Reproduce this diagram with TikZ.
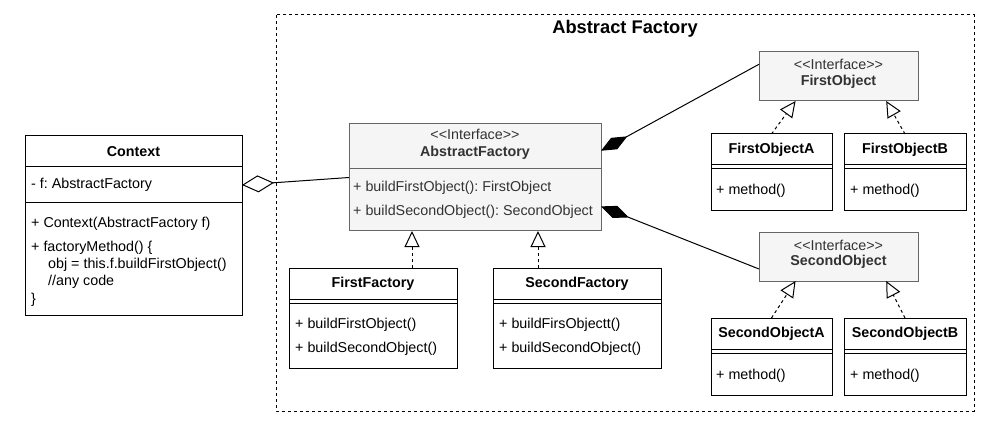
\documentclass[tikz,border=0pt]{standalone}
\usepackage{fontspec}
\setmainfont{Liberation Sans}
\usepackage{tikz}
\usetikzlibrary{arrows.meta,calc}
\frenchspacing
\definecolor{iface-fill}{HTML}{F5F5F5}
\definecolor{iface-line}{HTML}{666666}
\definecolor{iface-text}{HTML}{333333}
\newcommand{\stereo}[1]{<\kern0pt<#1>\kern0pt>}
\tikzset{
    class-box/.style = {draw, fill=white, line width=1pt, rectangle, anchor=north west, inner sep=0pt, outer sep=0pt},
    iface-box/.style = {class-box, draw=iface-line, fill=iface-fill},
    class-name/.style = {font=\bfseries\fontsize{14.3}{16}\selectfont, inner sep=0pt},
    stereo-name/.style = {font=\fontsize{14.3}{16}\selectfont, text=iface-text, inner sep=0pt},
    member/.style = {font=\fontsize{14.3}{16}\selectfont, anchor=west, inner sep=0pt},
    realize/.style = {line width=1pt, dash pattern=on 3pt off 3pt, -{Triangle[open,length=16pt,width=15pt]}},
    compose/.style = {line width=1pt, {Diamond[length=30pt,width=13pt]}-},
    aggregate/.style = {line width=1pt, {Diamond[open,length=32pt,width=17pt]}-},
}

\begin{document}
\begin{tikzpicture}[x=1pt,y=-1pt]
\useasboundingbox (0,0) rectangle (1000,430);

% package frame
\draw[line width=1pt, dash pattern=on 3pt off 3pt] (276,15) rectangle (974,411);
\node[font=\bfseries\fontsize{18.3}{20}\selectfont, inner sep=0pt] (title) at (625,29) {Abstract Factory};

% client
\node[class-box, minimum width=217pt, minimum height=179pt] (ctx) at (25,136) {};
\draw[line width=1pt] ([yshift=-31pt]ctx.north west) -- ([yshift=-31pt]ctx.north east)
    ([yshift=-67pt]ctx.north west) -- ([yshift=-67pt]ctx.north east);
\node[class-name] (ctx-name) at (133.5,152) {Context};
\node[member] (ctx-f) at (31,185) {- f: AbstractFactory};
\node[member] (ctx-m1) at (31,224) {+ Context(AbstractFactory f)};
\node[member] (ctx-m2) at (31,248) {+ factoryMethod() \{};
\node[member] (ctx-m3) at (48,265) {obj = this.f.buildFirstObject()};
\node[member] (ctx-m4) at (48,282) {//any code};
\node[member] (ctx-m5) at (31,300) {\}};

% abstract factory
\node[iface-box, minimum width=252pt, minimum height=107pt] (af) at (349,124) {};
\draw[line width=1pt, iface-line] ([yshift=-45pt]af.north west) -- ([yshift=-45pt]af.north east);
\node[stereo-name] (af-st) at (475,134) {\stereo{Interface}};
\node[class-name, text=iface-text] (af-name) at (475,153) {AbstractFactory};
\node[member, text=iface-text] (af-m1) at (353,188) {+ buildFirstObject(): FirstObject};
\node[member, text=iface-text] (af-m2) at (353,212) {+ buildSecondObject(): SecondObject};

% concrete factories
\node[class-box, minimum width=168pt, minimum height=100pt] (ff) at (289,268) {};
\draw[line width=1pt] ([yshift=-31pt]ff.north west) -- ([yshift=-31pt]ff.north east)
    ([yshift=-35pt]ff.north west) -- ([yshift=-35pt]ff.north east);
\node[class-name] (ff-name) at (373,284) {FirstFactory};
\node[member] (ff-m1) at (295,325) {+ buildFirstObject()};
\node[member] (ff-m2) at (295,349) {+ buildSecondObject()};

\node[class-box, minimum width=168pt, minimum height=100pt] (sf) at (493,268) {};
\draw[line width=1pt] ([yshift=-31pt]sf.north west) -- ([yshift=-31pt]sf.north east)
    ([yshift=-35pt]sf.north west) -- ([yshift=-35pt]sf.north east);
\node[class-name] (sf-name) at (577,284) {SecondFactory};
\node[member] (sf-m1) at (499,325) {+ buildFirsObjectt()};
\node[member] (sf-m2) at (499,349) {+ buildSecondObject()};

% product interfaces
\node[iface-box, minimum width=159pt, minimum height=49pt] (fo) at (759,52) {};
\node[stereo-name] (fo-st) at (838.5,64) {\stereo{Interface}};
\node[class-name, text=iface-text] (fo-name) at (838.5,82) {FirstObject};

\node[iface-box, minimum width=159pt, minimum height=48pt] (so) at (759,233) {};
\node[stereo-name] (so-st) at (838.5,245) {\stereo{Interface}};
\node[class-name, text=iface-text] (so-name) at (838.5,262) {SecondObject};

% products
\node[class-box, minimum width=121pt, minimum height=77pt] (foa) at (711,134) {};
\draw[line width=1pt] ([yshift=-31pt]foa.north west) -- ([yshift=-31pt]foa.north east)
    ([yshift=-35pt]foa.north west) -- ([yshift=-35pt]foa.north east);
\node[class-name] (foa-name) at (771.5,150) {FirstObjectA};
\node[member] (foa-m) at (716,191) {+ method()};

\node[class-box, minimum width=122pt, minimum height=77pt] (fob) at (844,134) {};
\draw[line width=1pt] ([yshift=-31pt]fob.north west) -- ([yshift=-31pt]fob.north east)
    ([yshift=-35pt]fob.north west) -- ([yshift=-35pt]fob.north east);
\node[class-name] (fob-name) at (905,150) {FirstObjectB};
\node[member] (fob-m) at (850,191) {+ method()};

\node[class-box, minimum width=121pt, minimum height=77pt] (soa) at (711,318) {};
\draw[line width=1pt] ([yshift=-31pt]soa.north west) -- ([yshift=-31pt]soa.north east)
    ([yshift=-35pt]soa.north west) -- ([yshift=-35pt]soa.north east);
\node[class-name] (soa-name) at (771.5,334) {SecondObjectA};
\node[member] (soa-m) at (716,376) {+ method()};

\node[class-box, minimum width=122pt, minimum height=77pt] (sob) at (844,318) {};
\draw[line width=1pt] ([yshift=-31pt]sob.north west) -- ([yshift=-31pt]sob.north east)
    ([yshift=-35pt]sob.north west) -- ([yshift=-35pt]sob.north east);
\node[class-name] (sob-name) at (905,334) {SecondObjectB};
\node[member] (sob-m) at (850,376) {+ method()};

% relations
\coordinate (af-q1) at ($(af.south west)!0.25!(af.south east)$);
\coordinate (af-q3) at ($(af.south west)!0.75!(af.south east)$);
\draw[realize] (ff.north -| af-q1) -- (af-q1);
\draw[realize] (sf.north -| af-q3) -- (af-q3);
\draw[realize] (foa.north) -- ($(fo.south west)!0.23!(fo.south east)$);
\draw[realize] (fob.north) -- ($(fo.south west)!0.8!(fo.south east)$);
\draw[realize] (soa.north) -- ($(so.south west)!0.23!(so.south east)$);
\draw[realize] (sob.north) -- ($(so.south west)!0.8!(so.south east)$);
\draw[compose] ($(af.north east)!0.25!(af.south east)$) -- ($(fo.north west)!0.25!(fo.south west)$);
\draw[compose] ($(af.north east)!0.77!(af.south east)$) -- ($(so.north west)!0.75!(so.south west)$);
\draw[aggregate] (ctx.east |- ctx-f) -- (af.west);
\end{tikzpicture}
\end{document}
